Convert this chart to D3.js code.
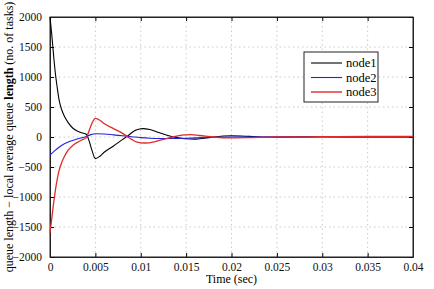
<!DOCTYPE html>
<html>
<head>
<meta charset="utf-8">
<script src="https://cdn.jsdelivr.net/npm/d3@7"></script>
<style>
  body { margin: 0; background: #fff; }
  svg, svg text { display: block; font-family: "Liberation Serif", "DejaVu Serif", serif; }
</style>
</head>
<body>
<svg width="434" height="289"></svg>
<script>
// series values: [time (sec), queue deviation]
const node1 = [[0,2000],[0.0002,1700],[0.0004,1350],[0.0006,1050],[0.0008,820],[0.001,620],[0.0013,450],[0.0016,340],[0.002,240],[0.0025,150],[0.003,100],[0.0035,70],[0.004,45],[0.0043,-60],[0.0046,-210],[0.005,-360],[0.0055,-320],[0.006,-250],[0.007,-150],[0.008,-40],[0.0085,10],[0.009,70],[0.0095,115],[0.0102,140],[0.011,125],[0.012,75],[0.013,25],[0.014,-10],[0.015,-30],[0.016,-35],[0.017,-20],[0.018,0],[0.02,20],[0.022,10],[0.024,-5],[0.027,0],[0.03,5],[0.035,0],[0.04,0]];
const node2 = [[0,-300],[0.0005,-230],[0.001,-170],[0.0015,-120],[0.002,-85],[0.003,-35],[0.004,10],[0.0045,40],[0.005,55],[0.006,50],[0.007,35],[0.008,20],[0.009,5],[0.01,-10],[0.011,-20],[0.012,-25],[0.013,-25],[0.015,-20],[0.017,-10],[0.02,0],[0.025,5],[0.03,0],[0.04,0]];
const node3 = [[0,-1600],[0.0002,-1350],[0.0004,-1100],[0.0006,-880],[0.0008,-700],[0.001,-560],[0.0013,-420],[0.0016,-320],[0.002,-220],[0.0025,-140],[0.003,-90],[0.0035,-50],[0.004,-10],[0.0043,100],[0.0046,220],[0.005,310],[0.0055,280],[0.006,220],[0.007,140],[0.008,60],[0.0085,10],[0.009,-40],[0.0095,-80],[0.0105,-100],[0.0115,-80],[0.0125,-40],[0.0135,0],[0.0145,30],[0.0155,40],[0.0165,25],[0.018,0],[0.02,-15],[0.022,-10],[0.025,0],[0.03,5],[0.035,10],[0.04,10]];

const seriesNames = ["node1", "node2", "node3"];
const xTicks = [0, 0.005, 0.01, 0.015, 0.02, 0.025, 0.03, 0.035, 0.04];
const xTickLabels = ["0", "0.005", "0.01", "0.015", "0.02", "0.025", "0.03", "0.035", "0.04"];
const yTicks = [-2000, -1500, -1000, -500, 0, 500, 1000, 1500, 2000];

const colors = ["#000000", "#2323d8", "#e02a2a"];
const margin = { left: 50, right: 21, top: 17, bottom: 32 };
const width = 434, height = 289;

const svg = d3.select("svg");

const x = d3.scaleLinear().domain([0, 0.04]).range([margin.left, width - margin.right]);
const y = d3.scaleLinear().domain([-2000, 2000]).range([height - margin.bottom, margin.top]);

// grid
const grid = svg.append("g").attr("stroke", "#bdbdbd").attr("stroke-width", 0.8).attr("stroke-dasharray", "1.5,3");
grid.selectAll(".gx").data(xTicks.slice(1, -1)).join("line")
  .attr("x1", d => x(d)).attr("x2", d => x(d))
  .attr("y1", y(-2000)).attr("y2", y(2000));
grid.selectAll(".gy").data(yTicks.slice(1, -1)).join("line")
  .attr("y1", d => y(d)).attr("y2", d => y(d))
  .attr("x1", x(0)).attr("x2", x(0.04));

// axes (ticks inside, like matlab)
const xAxis = d3.axisBottom(x).tickValues(xTicks).tickFormat((d, i) => xTickLabels[i]).tickSizeInner(-4).tickSizeOuter(0).tickPadding(6);
const yAxis = d3.axisLeft(y).tickValues(yTicks).tickFormat(d3.format("d")).tickSizeInner(-4).tickSizeOuter(0).tickPadding(8);

svg.append("g").attr("transform", `translate(0,${y(-2000)})`).call(xAxis);
svg.append("g").attr("transform", `translate(${x(0)},0)`).call(yAxis);
svg.append("g").attr("transform", `translate(0,${y(2000)})`)
  .call(d3.axisTop(x).tickValues(xTicks).tickFormat("").tickSizeInner(-4).tickSizeOuter(0));
svg.append("g").attr("transform", `translate(${x(0.04)},0)`)
  .call(d3.axisRight(y).tickValues(yTicks).tickFormat("").tickSizeInner(-4).tickSizeOuter(0));

svg.selectAll("g").attr("font-family", null).attr("font-size", null);
svg.selectAll(".tick text").attr("font-size", 11.5).attr("fill", "#111");
svg.selectAll(".domain").attr("stroke", "#222");

svg.append("rect")
  .attr("x", x(0)).attr("y", y(2000))
  .attr("width", x(0.04) - x(0)).attr("height", y(-2000) - y(2000))
  .attr("fill", "none").attr("stroke", "#222").attr("stroke-width", 1);

// lines
const line = d3.line().x(d => x(d[0])).y(d => y(d[1])).curve(d3.curveMonotoneX);
[node1, node2, node3].forEach((s, i) => {
  svg.append("path").datum(s)
    .attr("fill", "none").attr("stroke", colors[i])
    .attr("stroke-width", i == 2 ? 1.3 : 1.1)
    .attr("d", line);
});

// labels
svg.append("text")
  .attr("x", x(0.02)).attr("y", 283)
  .attr("text-anchor", "middle").attr("font-size", 12)
  .text("Time (sec)");

const yl = svg.append("text")
  .attr("transform", `translate(13,${y(0)}) rotate(-90)`)
  .attr("text-anchor", "middle").attr("font-size", 12);
yl.append("tspan").text("queue length \u2212 local average queue ");
yl.append("tspan").attr("font-weight", "bold").text("length");
yl.append("tspan").text(" (no. of tasks)");

// legend
const leg = svg.append("g").attr("transform", "translate(304,52)");
leg.append("rect").attr("width", 74).attr("height", 50)
  .attr("fill", "#fff").attr("stroke", "#222").attr("stroke-width", 1);
seriesNames.forEach((n, i) => {
  const yy = 11 + i * 14.5;
  leg.append("line").attr("x1", 7).attr("x2", 38).attr("y1", yy).attr("y2", yy)
    .attr("stroke", colors[i]).attr("stroke-width", i == 2 ? 1.4 : 1.1);
  leg.append("text").attr("x", 42).attr("y", yy + 4).attr("font-size", 12.5).text(n);
});
</script>
</body>
</html>
